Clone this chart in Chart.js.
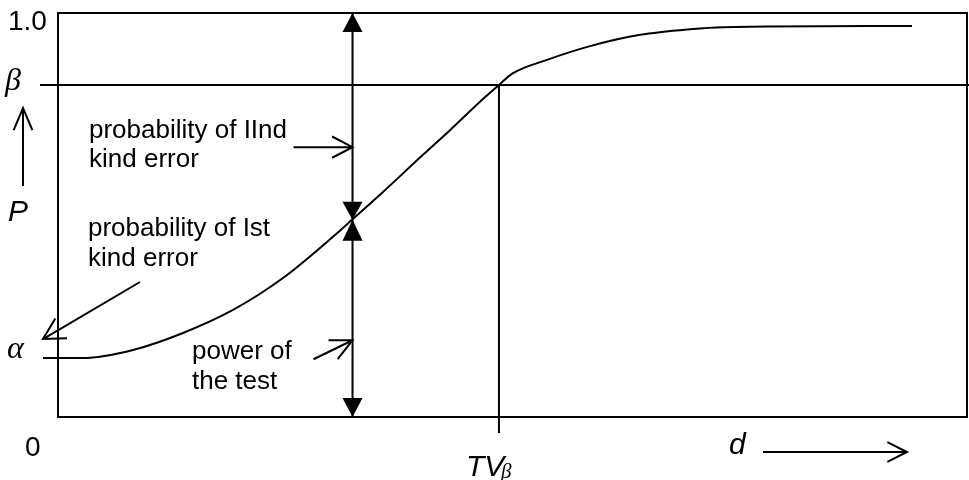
<!DOCTYPE html>
<html>
<head>
<meta charset="utf-8">
<script src="https://cdn.jsdelivr.net/npm/chart.js@4.4.1/dist/chart.umd.min.js"></script>
<style>
  html, body { margin: 0; padding: 0; background: #fff; }
  #wrap { width: 969px; height: 480px; position: relative; }
</style>
</head>
<body>
<div id="wrap"><canvas id="chart"></canvas></div>
<script>
// operating characteristic curve, d on x (0..10), P on y (0..1)
const curveD = [0.154, 0.275, 0.825, 1.375, 1.925, 2.475, 3.025, 3.234, 3.575, 4.015, 4.312, 4.675, 4.851, 5.006, 5.380, 5.853, 6.403, 6.953, 7.316, 9.395];
const curveP = [0.146, 0.146, 0.166, 0.208, 0.265, 0.344, 0.446, 0.488, 0.557, 0.649, 0.710, 0.787, 0.822, 0.851, 0.884, 0.918, 0.946, 0.960, 0.965, 0.968];

const alphaP = 0.146;
const betaP = 0.822;
const tvD = 4.851;
const arrowD = 3.24;
const crossP = 0.488;
const iindP = 0.668;
const powerP = 0.19;

const textFont = '26px Arial, "Liberation Sans", sans-serif';
const labelFont = '28px Arial, "Liberation Sans", sans-serif';
const italicFont = 'italic 30px Arial, "Liberation Sans", sans-serif';
const greekFont = 'italic 32px "Liberation Serif", "Times New Roman", serif';

function arrowLine(ctx, x1, y1, x2, y2, len, ang) {
    ctx.beginPath();
    ctx.moveTo(x1, y1);
    ctx.lineTo(x2, y2);
    const a = Math.atan2(y1 - y2, x1 - x2);
    ctx.moveTo(x2 + len * Math.cos(a + ang), y2 + len * Math.sin(a + ang));
    ctx.lineTo(x2, y2);
    ctx.lineTo(x2 + len * Math.cos(a - ang), y2 + len * Math.sin(a - ang));
    ctx.stroke();
}

function triangle(ctx, x, tipY, baseY, half) {
    ctx.beginPath();
    ctx.moveTo(x, tipY);
    ctx.lineTo(x - half, baseY);
    ctx.lineTo(x + half, baseY);
    ctx.closePath();
    ctx.fill();
}

const decorations = {
    id: 'decorations',
    afterDatasetsDraw(chart) {
        const { ctx, chartArea: area, scales: { x, y } } = chart;
        ctx.save();
        ctx.strokeStyle = '#000';
        ctx.fillStyle = '#000';
        ctx.lineWidth = 2;
        ctx.lineCap = 'butt';

        // frame
        ctx.strokeRect(area.left, area.top, area.right - area.left, area.bottom - area.top);

        // beta level line
        const yb = y.getPixelForValue(betaP);
        ctx.beginPath();
        ctx.moveTo(area.left - 18, yb);
        ctx.lineTo(chart.width, yb);
        ctx.stroke();

        // alpha tick
        const ya = y.getPixelForValue(alphaP);
        ctx.beginPath();
        ctx.moveTo(area.left - 15, ya);
        ctx.lineTo(area.left + 24, ya);
        ctx.stroke();

        // TV beta vertical
        const xt = x.getPixelForValue(tvD);
        ctx.beginPath();
        ctx.moveTo(xt, yb);
        ctx.lineTo(xt, area.bottom + 16);
        ctx.stroke();

        // double arrow line
        const xa = x.getPixelForValue(arrowD);
        const yc = y.getPixelForValue(crossP);
        ctx.beginPath();
        ctx.moveTo(xa, area.top);
        ctx.lineTo(xa, area.bottom);
        ctx.stroke();
        triangle(ctx, xa, area.top, area.top + 19, 10);
        triangle(ctx, xa, yc, yc - 18, 10);
        triangle(ctx, xa, yc, yc + 21, 10);
        triangle(ctx, xa, area.bottom, area.bottom - 19, 10);

        // pointer arrows
        const yi = y.getPixelForValue(iindP);
        arrowLine(ctx, xa - 59, yi, xa, yi, 23, 0.48);
        const yp = y.getPixelForValue(powerP);
        arrowLine(ctx, xa - 39, yp + 19, xa, yp, 24, 0.45);
        arrowLine(ctx, 140, 282, area.left - 15, ya - 19, 24, 0.5);
        arrowLine(ctx, 23, 186, 23, 108, 24, 0.4);
        arrowLine(ctx, 763, 452, 907, 452, 22, 0.47);

        // labels
        ctx.textAlign = 'left';
        ctx.textBaseline = 'alphabetic';
        ctx.font = labelFont;
        ctx.fillText('1.0', 8, 30);
        ctx.fillText('0', 25, 456);
        ctx.font = greekFont;
        ctx.fillText('β', 5, 90);
        ctx.fillText('α', 7, 358);
        ctx.font = italicFont;
        ctx.fillText('P', 8, 221);
        ctx.fillText('d', 729, 454);
        ctx.fillText('TV', 466, 476);
        ctx.font = 'italic 21px "Liberation Serif", "Times New Roman", serif';
        ctx.fillText('β', 501, 478);

        ctx.font = textFont;
        ctx.fillText('probability of IInd', 89, 138);
        ctx.fillText('kind error', 89, 167);
        ctx.fillText('probability of Ist', 88, 236);
        ctx.fillText('kind error', 88, 266);
        ctx.fillText('power of', 192, 359);
        ctx.fillText('the test', 192, 389);
        ctx.restore();
    }
};

new Chart(document.getElementById('chart'), {
    type: 'scatter',
    data: {
        datasets: [{
            data: curveD.map((d, i) => ({ x: d, y: curveP[i] })),
            showLine: true,
            borderColor: '#000',
            borderWidth: 2,
            pointRadius: 0,
            cubicInterpolationMode: 'monotone',
            fill: false
        }]
    },
    options: {
        responsive: true,
        maintainAspectRatio: false,
        animation: false,
        layout: { padding: { left: 58, top: 13, right: 2, bottom: 63 } },
        plugins: { legend: { display: false }, tooltip: { enabled: false } },
        scales: {
            x: { type: 'linear', min: 0, max: 10, display: false },
            y: { type: 'linear', min: 0, max: 1, display: false }
        }
    },
    plugins: [decorations]
});
</script>
</body>
</html>
